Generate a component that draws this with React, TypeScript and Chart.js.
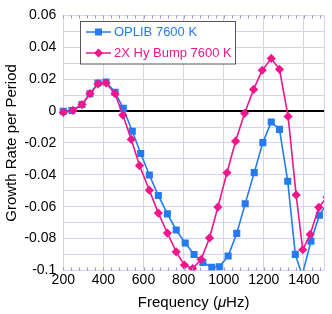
import { useEffect, useRef } from "react";
import { Chart, registerables } from "chart.js";

Chart.register(...registerables);

const FONT = "'Liberation Sans', Arial, Helvetica, sans-serif";

const oplibLabel = "OPLIB 7600 K";
const bumpLabel = "2X Hy Bump 7600 K";

const oplibFreq = [200, 243, 293, 333, 373, 413, 458, 499, 544, 586, 629, 674, 719, 763, 808, 852, 896, 940, 978, 1022, 1065, 1107, 1152, 1195, 1237, 1278, 1319, 1357, 1391, 1435, 1477, 1520];
const oplibRate = [-0.0002, 0.0004, 0.0041, 0.0109, 0.0176, 0.0182, 0.0118, 0.0017, -0.0127, -0.0266, -0.0401, -0.053, -0.0645, -0.0746, -0.0828, -0.09, -0.0949, -0.098, -0.0977, -0.0909, -0.0767, -0.0581, -0.0386, -0.0198, -0.0069, -0.0115, -0.044, -0.0899, -0.103, -0.0817, -0.0653, -0.057];

const bumpFreq = [200, 248, 293, 333, 373, 413, 458, 497, 539, 580, 629, 674, 719, 763, 804, 845, 887, 929, 971, 1016, 1059, 1104, 1149, 1192, 1237, 1278, 1321, 1361, 1394, 1431, 1474, 1515];
const bumpRate = [-0.0008, 0.0004, 0.0041, 0.0109, 0.017, 0.0176, 0.0109, -0.0025, -0.0178, -0.0342, -0.0496, -0.064, -0.0765, -0.0883, -0.0966, -0.0988, -0.0931, -0.0796, -0.0602, -0.0387, -0.0189, -0.0014, 0.0136, 0.0256, 0.033, 0.0262, -0.0034, -0.0526, -0.087, -0.0774, -0.0604, -0.054];

const xMajorTicks = [200, 400, 600, 800, 1000, 1200, 1400, 1500];
const xMinorStep = 40;

const BLUE = "rgb(38,122,240)";
const PINK = "rgb(240,22,140)";
const GRID = "rgb(212,212,242)";
const MINOR = "rgb(150,150,215)";

const overlayPlugin = {
  id: "overlay",
  afterDraw(chart: any) {
    const { ctx, chartArea, scales } = chart;
    const xs = scales.x;
    ctx.save();
    // minor tick marks top & bottom
    ctx.strokeStyle = MINOR;
    ctx.lineWidth = 1;
    ctx.beginPath();
    for (let v = 200; v < 1500; v += xMinorStep) {
      const px = Math.round(xs.getPixelForValue(v)) + 0.5;
      ctx.moveTo(px, chartArea.bottom);
      ctx.lineTo(px, chartArea.bottom - 3);
      ctx.moveTo(px, chartArea.top);
      ctx.lineTo(px, chartArea.top + 3);
    }
    ctx.stroke();

    // legend
    const lx = 80.5, ly = 21.5, lw = 155, lh = 42.5;
    ctx.fillStyle = "#fff";
    ctx.fillRect(lx, ly, lw, lh);
    ctx.strokeStyle = "#555";
    ctx.lineWidth = 1;
    ctx.strokeRect(lx, ly, lw, lh);
    const entries = [
      { label: oplibLabel, color: BLUE, style: "rect", y: 32 },
      { label: bumpLabel, color: PINK, style: "diamond", y: 53 },
    ];
    ctx.font = `13px ${FONT}`;
    ctx.textBaseline = "middle";
    ctx.textAlign = "left";
    for (const e of entries) {
      ctx.strokeStyle = e.color;
      ctx.lineWidth = 1.5;
      ctx.beginPath();
      ctx.moveTo(86, e.y);
      ctx.lineTo(111, e.y);
      ctx.stroke();
      ctx.fillStyle = e.color;
      if (e.style === "rect") {
        ctx.fillRect(98.5 - 3.5, e.y - 3.5, 7, 7);
      } else {
        ctx.beginPath();
        ctx.moveTo(98.5, e.y - 4.5);
        ctx.lineTo(103, e.y);
        ctx.lineTo(98.5, e.y + 4.5);
        ctx.lineTo(94, e.y);
        ctx.closePath();
        ctx.fill();
      }
      ctx.fillText(e.label, 114, e.y + 0.5);
    }

    // x title with italic mu
    const parts = [
      { t: "Frequency (", f: `15px ${FONT}` },
      { t: "\u03bc", f: `italic 15px ${FONT}` },
      { t: "Hz)", f: `15px ${FONT}` },
    ];
    let total = 0;
    for (const p of parts) {
      ctx.font = p.f;
      total += ctx.measureText(p.t).width;
    }
    let cx = (chartArea.left + chartArea.right) / 2 - total / 2;
    ctx.fillStyle = "#000";
    ctx.textBaseline = "middle";
    for (const p of parts) {
      ctx.font = p.f;
      ctx.fillText(p.t, cx, 302.5);
      cx += ctx.measureText(p.t).width;
    }
    ctx.restore();
  },
};

export default function App() {
  const ref = useRef<HTMLCanvasElement | null>(null);

  useEffect(() => {
    document.body.style.margin = "0";
    Chart.defaults.color = "#000";
    Chart.defaults.font.family = FONT;
    const chart = new Chart(ref.current as HTMLCanvasElement, {
      type: "line",
      data: {
        datasets: [
          {
            label: bumpLabel,
            data: bumpFreq.map((f, i) => ({ x: f, y: bumpRate[i] })),
            borderColor: PINK,
            backgroundColor: PINK,
            borderWidth: 1.6,
            pointStyle: "rectRot",
            pointRadius: 4.6,
            pointBorderWidth: 0,
            tension: 0,
            clip: { left: 6, top: 0, right: 0, bottom: 0 } as any,
          },
          {
            label: oplibLabel,
            data: oplibFreq.map((f, i) => ({ x: f, y: oplibRate[i] })),
            borderColor: BLUE,
            backgroundColor: BLUE,
            borderWidth: 1.6,
            pointStyle: "rect",
            pointRadius: 5,
            pointBorderWidth: 0,
            tension: 0,
            clip: { left: 6, top: 0, right: 0, bottom: 0 } as any,
          },
        ],
      },
      options: {
        animation: false,
        responsive: false,
        layout: { padding: { left: 0, top: 10, right: 8, bottom: 0 } },
        plugins: { legend: { display: false }, tooltip: { enabled: false } },
        scales: {
          x: {
            type: "linear",
            min: 200,
            max: 1500,
            afterBuildTicks: (s: any) => {
              s.ticks = xMajorTicks.map((v) => ({ value: v }));
            },
            afterFit: (s: any) => {
              s.height = 43.5;
            },
            ticks: {
              font: { size: 14, family: FONT },
              color: "#000",
              padding: 1,
              maxRotation: 0,
              autoSkip: false,
              callback: (v: any) => (v === 1500 ? "" : String(v)),
            },
            grid: { color: GRID, lineWidth: 1, drawTicks: false },
            border: { color: GRID, width: 1 },
          },
          y: {
            type: "linear",
            min: -0.1,
            max: 0.06,
            afterFit: (s: any) => {
              s.width = 63.3;
            },
            ticks: {
              stepSize: 0.01,
              font: { size: 14, family: FONT },
              color: "#000",
              padding: 7,
              autoSkip: false,
              callback: (v: any) => {
                const n = Math.round(Number(v) * 100);
                if (n % 2 !== 0) return "";
                if (n === 0) return "0";
                return String(n / 100);
              },
            },
            grid: {
              drawTicks: false,
              color: (c: any) => (Math.round(c.tick.value * 100) === 0 ? "#000" : GRID),
              lineWidth: (c: any) => (Math.round(c.tick.value * 100) === 0 ? 2 : 1),
            },
            border: { color: GRID, width: 1 },
            title: {
              display: true,
              text: "Growth Rate per Period",
              font: { size: 15, family: FONT },
              color: "#000",
              padding: { top: 3, bottom: 0 },
            },
          },
        },
      },
      plugins: [overlayPlugin],
    });
    return () => chart.destroy();
  }, []);

  return <canvas ref={ref} width={332} height={314} style={{ display: "block" }} />;
}
